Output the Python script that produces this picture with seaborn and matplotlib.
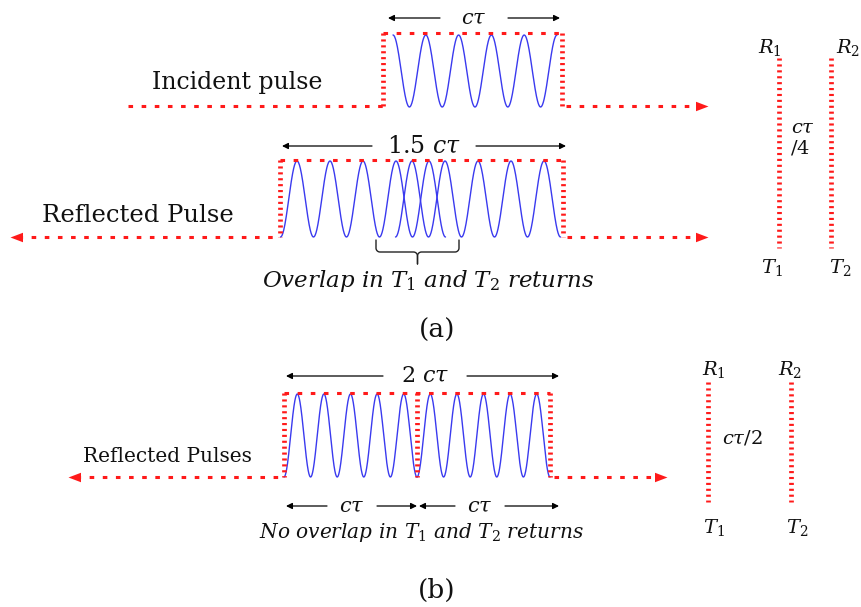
import numpy as np
import pandas as pd
import matplotlib
matplotlib.use("Agg")
import matplotlib.pyplot as plt
import seaborn as sns

# ---------------- data (diagram geometry, pixel units, y downward) ----------------
# sine pulses: start x, number of cycles, period, top y, bottom y, starting phase
pulse_names   = ["incident", "refl_T1", "refl_T2", "sep_T1", "sep_T2"]
pulse_start   = [393.0, 280.5, 395.5, 284.0, 417.0]
pulse_cycles  = [5, 5, 5, 5, 5]
pulse_period  = [32.8, 33.0, 33.0, 26.6, 26.6]
pulse_top     = [35.0, 161.0, 161.0, 394.0, 394.0]
pulse_bottom  = [107.0, 237.0, 237.0, 477.0, 477.0]
pulse_phase   = ["top", "bottom", "bottom", "bottom", "bottom"]

# red dotted envelopes: left x, right x, top y, baseline y, dividers
box_left   = [383, 280, 284]
box_right  = [562, 563, 550]
box_top    = [33, 160, 393]
box_base   = [106, 237, 477]
box_divider = [None, None, 417]
# baseline extents (left end, right end) and arrow directions
base_left  = [128, 10, 68]
base_right = [708, 708, 667]
base_left_arrow = [False, True, True]

# black dimension arrows: x0, x1, y, label, label center x, gap half width, font size
dim_x0    = [388, 282, 286, 286, 419]
dim_x1    = [560, 566, 559, 417, 559]
dim_y     = [18, 146, 376, 506, 506]
dim_label = [r"$c\tau$", r"1.5 $c\tau$", r"2 $c\tau$", r"$c\tau$", r"$c\tau$"]
dim_lx    = [474, 424, 425, 352, 480]
dim_gap   = [34, 52, 42, 25, 25]
dim_fs    = [15, 17, 16, 15, 15]

# range bins (R/T dotted verticals)
rt_x      = [[779, 831], [708, 791]]
rt_y      = [[58, 248], [382, 502]]

# overlap brace
brace = dict(x0=376, x1=459, ytop=240, ymid=252, ytip=264)

RED = "#ff1a1a"
BLUE = "#3a3aef"
INK = "#111111"

sns.set_theme(style="white")
plt.rcParams["font.family"] = ["DejaVu Serif"]
plt.rcParams["mathtext.fontset"] = "dejavuserif"

fig = plt.figure(figsize=(8.62, 6.07), dpi=100)
ax = fig.add_axes([0, 0, 1, 1])
ax.set_xlim(0, 862)
ax.set_ylim(607, 0)
ax.axis("off")

# ---------------- sine pulses via seaborn ----------------
rows = []
for name, s, c, p, t, b, ph in zip(pulse_names, pulse_start, pulse_cycles,
                                  pulse_period, pulse_top, pulse_bottom, pulse_phase):
    x = np.linspace(s, s + c * p, 600)
    w = (1 - np.cos(2 * np.pi * (x - s) / p)) / 2
    y = b - (b - t) * w if ph == "bottom" else t + (b - t) * w
    rows.append(pd.DataFrame({"x": x, "y": y, "pulse": name}))
df = pd.concat(rows, ignore_index=True)
sns.lineplot(data=df, x="x", y="y", hue="pulse", units="pulse", estimator=None,
             sort=False, palette=[BLUE] * len(pulse_names), legend=False,
             linewidth=1.0, ax=ax)

# ---------------- red dotted lines ----------------
hdot = dict(color=RED, lw=2.2, linestyle=(0, (1.5, 2.8)), dash_capstyle="butt")
vdot = dict(color=RED, lw=3.4, linestyle=(0, (0.45, 0.8)), dash_capstyle="butt")

def red_head(x, y, left):
    verts = [(0, 0), (1, 0.38), (1, -0.38), (0, 0)] if left else \
            [(0, 0), (-1, 0.38), (-1, -0.38), (0, 0)]
    ax.plot([x], [y], marker=verts, markersize=18, color=RED, markeredgewidth=0,
            linestyle="none")

for bl, br, bt, bb, dv, l0, r0, la in zip(box_left, box_right, box_top, box_base,
                                          box_divider, base_left, base_right,
                                          base_left_arrow):
    ax.plot([bl, br], [bt, bt], **hdot)
    ax.plot([bl, bl], [bt, bb], **vdot)
    ax.plot([br, br], [bt, bb], **vdot)
    if dv is not None:
        ax.plot([dv, dv], [bt, bb], **vdot)
    ax.plot([l0 + (8 if la else 0), bl], [bb, bb], **hdot)
    ax.plot([br + 4, r0 - 8], [bb, bb], **hdot)
    red_head(r0, bb, False)
    if la:
        red_head(l0, bb, True)

for xs, ys in zip(rt_x, rt_y):
    for x in xs:
        ax.plot([x, x], ys, **vdot)

# ---------------- black dimension arrows ----------------
for x0, x1, y, lab, lx, g, fs in zip(dim_x0, dim_x1, dim_y, dim_label, dim_lx,
                                     dim_gap, dim_fs):
    ap = dict(arrowstyle="-|>", color="black", lw=0.9, mutation_scale=9,
              shrinkA=0, shrinkB=0)
    ax.annotate("", xy=(x0, y), xytext=(lx - g, y), arrowprops=ap)
    ax.annotate("", xy=(x1, y), xytext=(lx + g, y), arrowprops=ap)
    ax.text(lx, y, lab, ha="center", va="center", fontsize=fs, color=INK)

# ---------------- brace ----------------
r = 4
x0, x1, yt, ym, ytp = brace["x0"], brace["x1"], brace["ytop"], brace["ymid"], brace["ytip"]
xm = (x0 + x1) / 2
th = np.linspace(0, np.pi / 2, 12)
bx = np.concatenate([[x0], x0 + r - r * np.cos(th), [xm - r], xm - r + r * np.sin(th), [xm]])
by = np.concatenate([[yt], ym - r + r * np.sin(th), [ym], ym + r - r * np.cos(th), [ytp]])
ax.plot(bx, by, color="#222222", lw=1.0)
ax.plot(2 * xm - bx, by, color="#222222", lw=1.0)

# ---------------- texts ----------------
ax.text(237, 83, "Incident pulse", ha="center", va="center", fontsize=17, color=INK)
ax.text(138, 215, "Reflected Pulse", ha="center", va="center", fontsize=17.5, color=INK)
ax.text(167, 456, "Reflected Pulses", ha="center", va="center", fontsize=14.5, color=INK)
ax.text(428, 281, r"Overlap in $T_1$ and $T_2$ returns", ha="center", va="center",
        fontsize=16.5, fontstyle="italic", color=INK)
ax.text(421, 532, r"No overlap in $T_1$ and $T_2$ returns", ha="center", va="center",
        fontsize=14.5, fontstyle="italic", color=INK)
ax.text(437, 330, "(a)", ha="center", va="center", fontsize=19, color=INK)
ax.text(437, 590, "(b)", ha="center", va="center", fontsize=19, color=INK)

for lab, x, y in [(r"$R_1$", 770, 47), (r"$R_2$", 848, 47), (r"$T_1$", 772, 268),
                  (r"$T_2$", 840, 268), (r"$R_1$", 714, 370), (r"$R_2$", 790, 370),
                  (r"$T_1$", 714, 528), (r"$T_2$", 797, 528)]:
    ax.text(x, y, lab, ha="center", va="center", fontsize=14, color=INK)
ax.text(803, 128, r"$c\tau$", ha="center", va="center", fontsize=14, color=INK)
ax.text(800, 148, r"$/4$", ha="center", va="center", fontsize=14, color=INK)
ax.text(742, 438, r"$c\tau/2$", ha="center", va="center", fontsize=14, color=INK)

fig.savefig("out.png", dpi=100)
